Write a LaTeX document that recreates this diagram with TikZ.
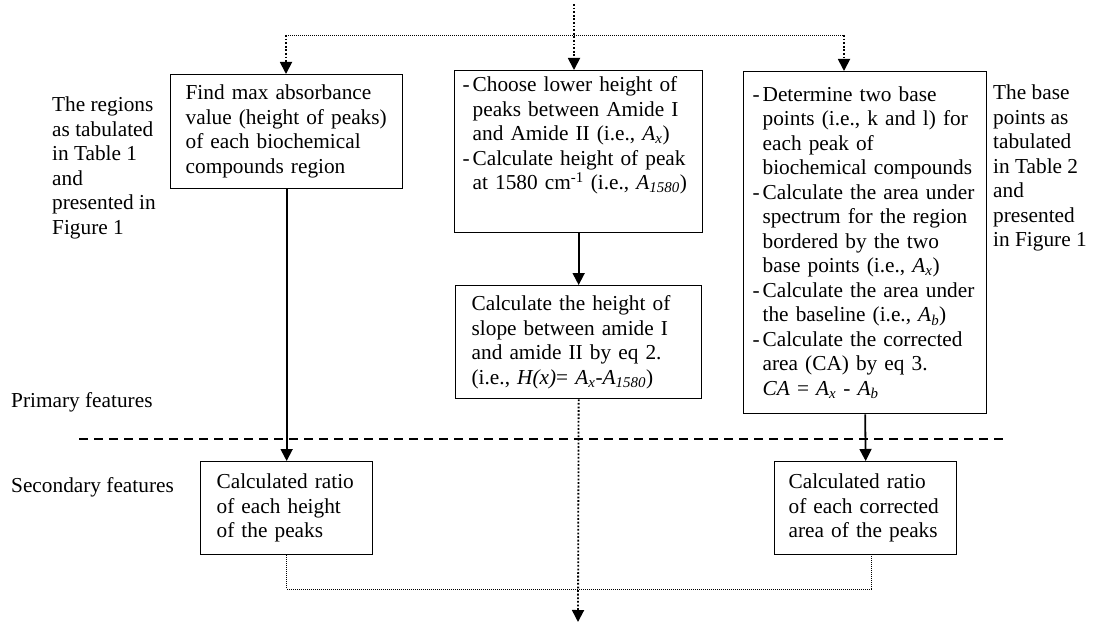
\documentclass[tikz,border=0pt]{standalone}
\usepackage{fontspec}
\setmainfont{Liberation Serif}
\usetikzlibrary{arrows.meta}
\usetikzlibrary{calc}

\newcommand{\Asub}[1]{\textit{A}\textsubscript{\textit{#1}}}
\newcommand{\dashit}{\makebox[10pt][l]{-}}
\newcommand{\cont}{\hspace*{10pt}}

\begin{document}
\begin{tikzpicture}[x=1pt,y=-1pt,
    every node/.style={font=\fontsize{21.3}{24.5}\selectfont},
    box/.style={draw, line width=1.3pt, align=left, anchor=north west, inner ysep=0pt},
    note/.style={align=left, anchor=north west, inner sep=0pt},
    flow/.style={-{Triangle[length=12pt,width=12pt]}, line width=1.8pt},
    dotflow/.style={-{Triangle[length=12pt,width=12pt]}, line width=1.8pt, dash pattern=on 1.8pt off 1.8pt},
    thindot/.style={line width=0.9pt, dash pattern=on 1pt off 1pt},
    sep/.style={line width=1.2pt, dash pattern=on 9pt off 6pt}]
                \useasboundingbox (0,0) rectangle (1095,623);

                % boxes
                \node[box, minimum width=232, minimum height=114, text width=202pt, inner xsep=15pt] (height) at (170,74)
                    {Find max absorbance\\ value (height of peaks)\\ of each biochemical\\ compounds region};
                \node[box, minimum width=248, minimum height=162, text width=232pt, inner xsep=8pt] (lower) at (454,70)
                    {\parbox[c][150pt][t]{232pt}{\dashit Choose lower height of\\ \cont peaks between Amide I\\ \cont and Amide II (i.e., \Asub{x})\\ \dashit Calculate height of peak\\ \cont at 1580 cm\textsuperscript{-1} (i.e., \Asub{1580})}};
                \node[box, minimum width=243, minimum height=342, text width=225pt, inner xsep=9pt] (area) at (743,71)
                    {\dashit Determine two base\\ \cont points (i.e., k and l) for\\ \cont each peak of\\ \cont biochemical compounds\\ \dashit Calculate the area under\\ \cont spectrum for the region\\ \cont bordered by the two\\ \cont base points (i.e., \Asub{x})\\ \dashit Calculate the area under\\ \cont the baseline (i.e., \Asub{b})\\ \dashit Calculate the corrected\\ \cont area (CA) by eq 3.\\ \cont \textit{CA} = \Asub{x} - \Asub{b}};
                \node[box, minimum width=246, minimum height=113, text width=214pt, inner xsep=16pt] (slope) at (455,285)
                    {Calculate the height of\\ slope between amide I\\ and amide II by eq 2.\\ (i.e., \textit{H(x)}= \Asub{x}-\Asub{1580})};
                \node[box, minimum width=172, minimum height=93, text width=140pt, inner xsep=16pt] (ratioh) at (200,461)
                    {Calculated ratio\\ of each height\\ of the peaks};
                \node[box, minimum width=182, minimum height=93, text width=162pt, inner xsep=10pt] (ratioa) at (774,461)
                    {\hspace*{4pt}Calculated ratio\\ \hspace*{4pt}of each corrected\\ \hspace*{4pt}area of the peaks};

                % side texts
                \node[note] (lnote) at (52,97) {The regions\\ as tabulated\\ in Table 1\\ and\\ presented in\\ Figure 1};
                \node[note] (rnote) at (993,85) {The base\\ points as\\ tabulated\\ in Table 2\\ and\\ presented\\ in Figure 1};
                \node[anchor=west, inner sep=0pt] (prim) at (11,402) {Primary features};
                \node[anchor=west, inner sep=0pt] (second) at (11,487) {Secondary features};

                % connectors
                \coordinate (src) at (574,4);
                \coordinate (split) at (574,35);
                \coordinate (ltop) at (286,35);
                \coordinate (rtop) at (844,35);
                \coordinate (bjoin) at (871,589);
                \coordinate (out) at (578,622);
                \coordinate (sepl) at (79,439);
                \coordinate (sepr) at (1008,439);

                \draw[thindot] (ltop) -- (rtop);
                \draw[dotflow] (src) -- (split |- lower.north);
                \draw[dotflow] (ltop) -- (ltop |- height.north);
                \draw[dotflow] (rtop) -- (rtop |- area.north);
                \draw[flow] (height.south) -- (ratioh.north);
                \draw[flow] (lower.south) -- (slope.north);
                \draw[flow] (area.south) -- (ratioa.north);
                \draw[sep] (sepl) -- (sepr);
                \draw[thindot] (ratioh.south) |- (bjoin) -- (bjoin |- ratioa.south);
                \draw[dotflow] (slope.south) -- (out);

            \end{tikzpicture}
\end{document}
